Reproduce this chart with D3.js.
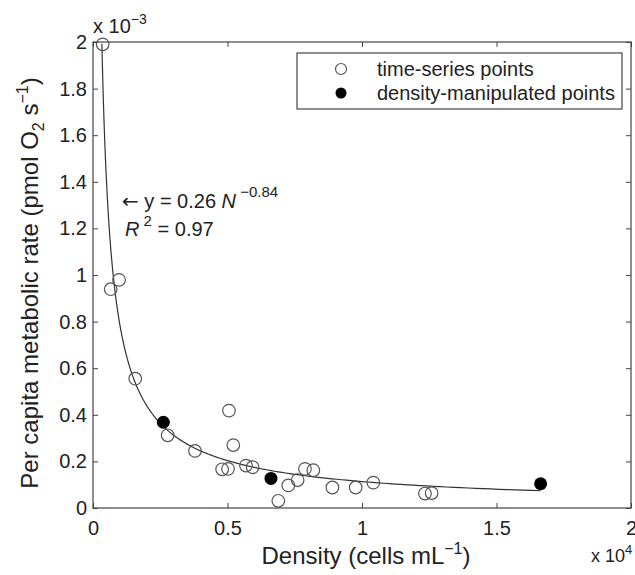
<!DOCTYPE html>
<html>
<head>
<meta charset="utf-8">
<script src="https://cdn.jsdelivr.net/npm/d3@7"></script>
<style>
  body { margin: 0; background: #fff; }
  text { font-family: "Liberation Sans", Arial, Helvetica, sans-serif; fill: #222; }
</style>
</head>
<body>
<svg width="635" height="575"></svg>
<script>
// density in cells/mL, rate in units of 1e-3 pmol O2 per second
var timeDensity = [360, 658, 967, 1570, 2776, 3791, 5055, 5215, 4800, 5020, 5687, 5935, 6888, 7260, 7608, 7880, 8190, 8900, 9765, 10420, 12340, 12590];
var timeRate = [1.99, 0.939, 0.979, 0.555, 0.312, 0.245, 0.418, 0.27, 0.166, 0.168, 0.182, 0.175, 0.031, 0.097, 0.12, 0.168, 0.162, 0.088, 0.088, 0.109, 0.062, 0.064];
var manipDensity = [2614, 6616, 16640];
var manipRate = [0.368, 0.127, 0.104];

// fitted power law from the annotation: y = 0.26 N^-0.84
var fitA = 0.26, fitB = -0.84;
var fitRange = [330, 16640];

var xTicks = [0, 5000, 10000, 15000, 20000];
var xTickLabels = ["0", "0.5", "1", "1.5", "2"];
var yTicks = [0, 0.2, 0.4, 0.6, 0.8, 1, 1.2, 1.4, 1.6, 1.8, 2];
var yTickLabels = ["0", "0.2", "0.4", "0.6", "0.8", "1", "1.2", "1.4", "1.6", "1.8", "2"];
var legendLabels = ["time-series points", "density-manipulated points"];

var svg = d3.select("svg"),
    plotLeft = 93, plotRight = 631, plotTop = 42, plotBottom = 508;

var x = d3.scaleLinear().domain([0, 20000]).range([plotLeft, plotRight]);
var y = d3.scaleLinear().domain([0, 2]).range([plotBottom, plotTop]);

var axisColor = "#444";

// axes, ticks pointing inwards on all four sides
svg.append("g")
    .attr("transform", "translate(0," + plotBottom + ")")
    .call(d3.axisBottom(x).tickValues(xTicks)
        .tickFormat(function (d, i) { return xTickLabels[i]; })
        .tickSizeInner(-5).tickSizeOuter(0).tickPadding(13));

svg.append("g")
    .attr("transform", "translate(0," + plotTop + ")")
    .call(d3.axisTop(x).tickValues(xTicks).tickFormat("")
        .tickSizeInner(-5).tickSizeOuter(0));

svg.append("g")
    .attr("transform", "translate(" + plotLeft + ",0)")
    .call(d3.axisLeft(y).tickValues(yTicks)
        .tickFormat(function (d, i) { return yTickLabels[i]; })
        .tickSizeInner(-5).tickSizeOuter(0).tickPadding(6));

svg.append("g")
    .attr("transform", "translate(" + plotRight + ",0)")
    .call(d3.axisRight(y).tickValues(yTicks).tickFormat("")
        .tickSizeInner(-5).tickSizeOuter(0));

svg.selectAll(".domain").remove();
svg.selectAll(".tick line").attr("stroke", axisColor);
svg.selectAll(".tick text")
    .style("font-size", "20px")
    .attr("font-family", null)
    .attr("fill", "#222");

svg.append("rect")
    .attr("x", plotLeft)
    .attr("y", plotTop)
    .attr("width", plotRight - plotLeft)
    .attr("height", plotBottom - plotTop)
    .attr("fill", "none")
    .attr("stroke", axisColor)
    .attr("stroke-width", 1.2);

// fit curve
svg.append("clipPath").attr("id", "plot-clip")
    .append("rect")
    .attr("x", plotLeft).attr("y", plotTop)
    .attr("width", plotRight - plotLeft).attr("height", plotBottom - plotTop);

var fitN = d3.range(0, 1.0001, 0.005).map(function (t) {
    return fitRange[0] * Math.pow(fitRange[1] / fitRange[0], t);
});

var fitLine = d3.line()
    .x(function (n) { return x(n); })
    .y(function (n) { return y(fitA * Math.pow(n, fitB) * 1000); });

svg.append("path")
    .datum(fitN)
    .attr("clip-path", "url(#plot-clip)")
    .attr("d", fitLine)
    .attr("fill", "none")
    .attr("stroke", "#333")
    .attr("stroke-width", 1.2);

// points
var timePoints = timeDensity.map(function (d, i) { return { n: d, r: timeRate[i] }; });
var manipPoints = manipDensity.map(function (d, i) { return { n: d, r: manipRate[i] }; });

svg.append("g")
    .selectAll("circle")
    .data(timePoints)
    .enter().append("circle")
    .attr("cx", function (d) { return x(d.n); })
    .attr("cy", function (d) { return y(d.r); })
    .attr("r", 6.3)
    .attr("fill", "none")
    .attr("stroke", "#555")
    .attr("stroke-width", 1.2);

svg.append("g")
    .selectAll("circle")
    .data(manipPoints)
    .enter().append("circle")
    .attr("cx", function (d) { return x(d.n); })
    .attr("cy", function (d) { return y(d.r); })
    .attr("r", 6.5)
    .attr("fill", "#000");

// scale multipliers
var yMult = svg.append("text")
    .attr("x", 93)
    .attr("y", 33)
    .style("font-size", "20px");
yMult.append("tspan").text("x 10");
yMult.append("tspan").attr("dy", -9).style("font-size", "14px").text("\u22123");

var xMult = svg.append("text")
    .attr("x", 591)
    .attr("y", 562)
    .style("font-size", "18px");
xMult.append("tspan").text("x 10");
xMult.append("tspan").attr("dy", -8).style("font-size", "13px").text("4");

// axis titles
var xTitle = svg.append("text")
    .attr("x", 366)
    .attr("y", 564)
    .attr("text-anchor", "middle")
    .style("font-size", "24px");
xTitle.append("tspan").text("Density (cells mL");
xTitle.append("tspan").attr("dy", -10).style("font-size", "16px").text("\u22121");
xTitle.append("tspan").attr("dy", 10).text(")");

var yTitle = svg.append("text")
    .attr("transform", "translate(38,283)rotate(-90)")
    .attr("text-anchor", "middle")
    .style("font-size", "24px");
yTitle.append("tspan").text("Per capita metabolic rate (pmol O");
yTitle.append("tspan").attr("dy", 6).style("font-size", "16px").text("2");
yTitle.append("tspan").attr("dy", -6).text(" s");
yTitle.append("tspan").attr("dy", -10).style("font-size", "16px").text("\u22121");
yTitle.append("tspan").attr("dy", 10).text(")");

// annotation
var eq = svg.append("text")
    .attr("x", 122)
    .attr("y", 208)
    .style("font-size", "20px");
eq.append("tspan").style("font-family", "'DejaVu Sans'").text("\u2190");
eq.append("tspan").text(" y = 0.26 ");
eq.append("tspan").style("font-style", "italic").text("N");
eq.append("tspan").attr("dy", -11).style("font-size", "15px").text(" \u22120.84");

var r2 = svg.append("text")
    .attr("x", 125)
    .attr("y", 236)
    .style("font-size", "20px");
r2.append("tspan").style("font-style", "italic").text("R");
r2.append("tspan").attr("dy", -10).style("font-size", "15px").text(" 2");
r2.append("tspan").attr("dy", 10).text(" = 0.97");

// legend
var legend = svg.append("g");
legend.append("rect")
    .attr("x", 297)
    .attr("y", 53)
    .attr("width", 325)
    .attr("height", 56)
    .attr("fill", "#fff")
    .attr("stroke", axisColor)
    .attr("stroke-width", 1.2);

var legendItem = legend.selectAll("g")
    .data(legendLabels)
    .enter().append("g")
    .attr("transform", function (d, i) { return "translate(0," + (69 + i * 24) + ")"; });

legendItem.append("circle")
    .attr("cx", 341)
    .attr("r", 5.5)
    .attr("fill", function (d, i) { return i === 0 ? "none" : "#000"; })
    .attr("stroke", function (d, i) { return i === 0 ? "#555" : "none"; })
    .attr("stroke-width", 1.2);

legendItem.append("text")
    .attr("x", 377)
    .attr("dy", "0.35em")
    .style("font-size", "20px")
    .text(function (d) { return d; });
</script>
</body>
</html>
